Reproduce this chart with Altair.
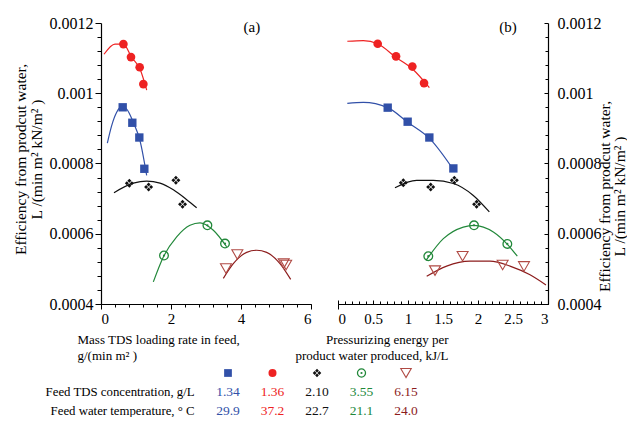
import altair as alt
import pandas as pd

FONT = "Liberation Serif"
SERIES = ["1.34", "1.36", "2.10", "3.55", "6.15"]
TEMPS = ["29.9", "37.2", "22.7", "21.1", "24.0"]
COLORS = ["#3150a8", "#ee2222", "#111111", "#22883a", "#8c1c1c"]
ROW_LABELS = ["Feed TDS concentration, g/L", "Feed water temperature, \u00b0 C"]

# ---------- panel (a): measured points ----------
a_pts = {
    "1.34": ([0.62, 0.895, 1.095, 1.238], [0.000960, 0.000916, 0.000874, 0.000785]),
    "1.36": ([0.64, 0.857, 1.105, 1.21], [0.001140, 0.001103, 0.001074, 0.001026]),
    "2.10": ([0.81, 1.36, 2.14, 2.33], [0.000744, 0.000733, 0.000752, 0.000684]),
    "3.55": ([1.80, 3.04, 3.543], [0.000538, 0.000624, 0.000572]),
    "6.15": ([3.57, 3.895, 5.22, 5.29], [0.000501, 0.000541, 0.000515, 0.000511]),
}
# panel (a): fitted curves
a_fit = {
    "1.34": ([0.181, 0.305, 0.448, 0.590, 0.733, 0.924, 1.114, 1.305],
             [0.000858, 0.000908, 0.000946, 0.000962, 0.000955, 0.000917, 0.000865, 0.000766]),
    "1.36": ([0.086, 0.40, 0.64, 0.876, 1.114, 1.306],
             [0.001111, 0.001140, 0.001140, 0.001102, 0.001069, 0.001009]),
    "2.10": ([0.371, 0.924, 1.305, 1.686, 2.067, 2.448, 2.733],
             [0.000717, 0.000744, 0.000750, 0.000744, 0.000725, 0.000697, 0.000674]),
    "3.55": ([1.495, 1.781, 2.162, 2.543, 2.829, 3.21, 3.59],
             [0.000463, 0.000534, 0.000591, 0.000624, 0.000631, 0.000610, 0.000563]),
    "6.15": ([3.495, 3.78, 4.162, 4.448, 4.733, 5.114, 5.42],
             [0.000473, 0.000515, 0.000547, 0.000553, 0.000547, 0.000515, 0.000470]),
}
# ---------- panel (b): measured points ----------
b_pts = {
    "1.34": ([0.71, 0.995, 1.305, 1.648], [0.000959, 0.000919, 0.000874, 0.000786]),
    "1.36": ([0.567, 0.829, 1.062, 1.229], [0.001141, 0.001105, 0.001076, 0.001029]),
    "2.10": ([0.933, 1.324, 1.662, 1.98], [0.000745, 0.000733, 0.000752, 0.000684]),
    "3.55": ([1.29, 1.943, 2.419], [0.000536, 0.000624, 0.000571]),
    "6.15": ([1.386, 1.78, 2.352, 2.657], [0.000495, 0.000536, 0.000511, 0.000507]),
}
b_fit = {
    "1.34": ([0.133, 0.362, 0.71, 1.0, 1.31, 1.671],
             [0.000971, 0.000974, 0.000959, 0.000917, 0.000871, 0.000776]),
    "1.36": ([0.133, 0.362, 0.567, 0.829, 1.076, 1.305],
             [0.001148, 0.001150, 0.001141, 0.001102, 0.001067, 0.001016]),
    "2.10": ([0.814, 1.124, 1.362, 1.648, 1.933, 2.162],
             [0.000731, 0.000752, 0.000752, 0.000743, 0.000709, 0.000662]),
    "3.55": ([1.257, 1.505, 1.79, 1.943, 2.219, 2.433, 2.562],
             [0.000524, 0.000586, 0.000619, 0.000624, 0.000605, 0.000567, 0.000536]),
    "6.15": ([1.267, 1.552, 1.886, 2.171, 2.457, 2.743, 2.971],
             [0.000479, 0.000508, 0.000522, 0.000522, 0.000508, 0.000483, 0.000454]),
}

Y_TICKS = [0.0004, 0.0006, 0.0008, 0.001, 0.0012]
Y_MINOR = [0.0004 + 0.00004 * i for i in range(21)]
XA_TICKS = [0, 2, 4, 6]
XA_MINOR = [0.4 * i for i in range(16)]
XB_TICKS = [0, 0.5, 1, 1.5, 2, 2.5, 3]
XB_MINOR = [0.1 * i for i in range(31)]

W, H = 447, 281
YSC = alt.Scale(domain=[0.0004, 0.0012], nice=False, zero=False)
XA_SC = alt.Scale(domain=[0, 6], range=[0, 210], nice=False, zero=False)
XB_SC = alt.Scale(domain=[0, 3], range=[237, 447], nice=False, zero=False)
COLOR = alt.Color("s:N", scale=alt.Scale(domain=SERIES, range=COLORS), legend=None)

DIAMONDS = ("M0,-0.9L0.4,-0.5L0,-0.1L-0.4,-0.5Z M0.9,0L0.5,0.4L0.1,0L0.5,-0.4Z "
            "M0,0.9L-0.4,0.5L0,0.1L0.4,0.5Z M-0.9,0L-0.5,-0.4L-0.1,0L-0.5,0.4Z")

ax_common = dict(labelFont=FONT, titleFont=FONT, titleFontWeight="normal",
                 labelColor="black", titleColor="black", domainColor="black",
                 tickColor="black", grid=False, domainWidth=1.2, tickWidth=1)
minor_common = dict(labels=False, domain=False, grid=False, title=None, tickColor="black", tickWidth=1)


def fit_df(fits):
    rows = []
    for s, (xs, ys) in fits.items():
        for i, (x, y) in enumerate(zip(xs, ys)):
            rows.append({"s": s, "x": x, "y": y, "i": i})
    return pd.DataFrame(rows)


def pts_df(pts, s):
    xs, ys = pts[s]
    return pd.DataFrame({"x": xs, "y": ys, "s": s})


def panel_layers(pts, fits, xsc, label, label_x):
    X = alt.X("x:Q", scale=xsc, axis=None)
    Y = alt.Y("y:Q", scale=YSC, axis=None)
    out = [
        alt.Chart(fit_df(fits)).mark_line(interpolate="monotone", strokeWidth=1.2).encode(
            x=X, y=Y, color=COLOR, detail="s:N", order="i:Q"),
        alt.Chart(pts_df(pts, "1.34")).mark_point(shape="square", filled=True, size=70,
                                                 color=COLORS[0], opacity=1).encode(x=X, y=Y),
        alt.Chart(pts_df(pts, "1.36")).mark_point(shape="circle", filled=True, size=75,
                                                 color=COLORS[1], opacity=1).encode(x=X, y=Y),
        alt.Chart(pts_df(pts, "2.10")).mark_point(shape=DIAMONDS, filled=True, size=100,
                                                 color="#111111", opacity=1).encode(x=X, y=Y),
        alt.Chart(pts_df(pts, "3.55")).mark_point(shape="circle", filled=False, size=75,
                                                 color=COLORS[3], strokeWidth=1.3, opacity=1).encode(x=X, y=Y),
        alt.Chart(pts_df(pts, "3.55")).mark_point(shape="circle", filled=True, size=5,
                                                 color=COLORS[3], opacity=1).encode(x=X, y=Y),
        alt.Chart(pts_df(pts, "6.15")).mark_point(shape="triangle-down", filled=False, size=120,
                                                 color="#b04a44", strokeWidth=1.1, opacity=1).encode(x=X, y=Y),
        alt.Chart(pd.DataFrame({"x": [label_x], "y": [0.00119], "t": [label]})).mark_text(
            font=FONT, fontSize=15, color="black", baseline="middle").encode(x=X, y=Y, text="t:N"),
    ]
    return out


YTITLE = ["Efficiency from prodcut water,", "L /(min  m\u00b2 kN/m\u00b2 )"]

# ---------------- axes layers (invisible points carrying the axes) ----------------
left_major = alt.Chart(pts_df(a_pts, "1.34")).mark_point(opacity=0).encode(
    x=alt.X("x:Q", scale=XA_SC, axis=alt.Axis(
        orient="bottom", values=XA_TICKS, format="d", tickSize=5, labelFontSize=15, labelPadding=2,
        title=["Mass TDS loading rate in feed,", "g/(min m\u00b2   )"], titleFontSize=13,
        titleAlign="left", titleAnchor="start", titleX=-24, titleY=29, titleBaseline="top",
        titleLineHeight=16, **ax_common)),
    y=alt.Y("y:Q", scale=YSC, axis=alt.Axis(
        orient="left", values=Y_TICKS, format=".2~g", tickSize=6, labelFontSize=16, labelPadding=2,
        title=YTITLE, titleFontSize=15.5, titleAngle=270, titleX=-88, titleY=136, titleAlign="center",
        titleBaseline="top", titleLineHeight=16, **ax_common)))

left_minor = alt.Chart(pts_df(a_pts, "1.36")).mark_point(opacity=0).encode(
    x=alt.X("x:Q", scale=XA_SC, axis=alt.Axis(orient="bottom", values=XA_MINOR, tickSize=3, **minor_common)),
    y=alt.Y("y:Q", scale=YSC, axis=alt.Axis(orient="left", values=Y_MINOR, tickSize=4, **minor_common)))

right_major = alt.Chart(pts_df(b_pts, "1.34")).mark_point(opacity=0).encode(
    x=alt.X("x:Q", scale=XB_SC, axis=alt.Axis(
        orient="bottom", values=XB_TICKS, format="~g", tickSize=5, labelFontSize=15, labelPadding=2,
        tickOpacity={"condition": {"test": "datum.value == 0", "value": 1}, "value": 0},
        title=["Pressurizing energy per", "product water produced, kJ/L"], titleFontSize=13,
        titleAlign="right", titleAnchor="end", titleX=347, titleY=29, titleBaseline="top",
        titleLineHeight=16, **ax_common)),
    y=alt.Y("y:Q", scale=YSC, axis=alt.Axis(
        orient="right", values=Y_TICKS, format=".2~g", ticks=False, labelFontSize=16, labelPadding=9,
        title=YTITLE, titleFontSize=15.5, titleAngle=270, titleX=49, titleY=173, titleAlign="center",
        titleBaseline="top", titleLineHeight=15, **ax_common)))

right_in = alt.Chart(pts_df(b_pts, "1.36")).mark_point(opacity=0).encode(
    x=alt.X("x:Q", scale=XB_SC, axis=alt.Axis(orient="top", offset=-H, values=XB_TICKS, tickSize=4, **minor_common)),
    y=alt.Y("y:Q", scale=YSC, axis=alt.Axis(orient="left", offset=-W, values=Y_TICKS, tickSize=4, **minor_common)))
right_minor = alt.Chart(pts_df(b_pts, "2.10")).mark_point(opacity=0).encode(
    x=alt.X("x:Q", scale=XB_SC, axis=alt.Axis(orient="top", offset=-H, values=XB_MINOR, tickSize=3, **minor_common)),
    y=alt.Y("y:Q", scale=YSC, axis=alt.Axis(orient="left", offset=-W, values=Y_MINOR, tickSize=3, **minor_common)))

# ---------------- table below ----------------
TX = alt.Scale(domain=[0, 4], range=[127, 305], nice=False, zero=False)
TY = alt.Scale(domain=[0, 2], range=[350, 388], nice=False, zero=False)
TXe = alt.X("col:Q", scale=TX, axis=None)
TYe = alt.Y("row:Q", scale=TY, axis=None)
one = lambda c: pd.DataFrame({"col": [c], "row": [0]})
table = [
    alt.Chart(one(0)).mark_point(shape="square", filled=True, size=60, color=COLORS[0], opacity=1).encode(x=TXe, y=TYe),
    alt.Chart(one(1)).mark_point(shape="circle", filled=True, size=65, color=COLORS[1], opacity=1).encode(x=TXe, y=TYe),
    alt.Chart(one(2)).mark_point(shape=DIAMONDS, filled=True, size=90, color="#111111", opacity=1).encode(x=TXe, y=TYe),
    alt.Chart(one(3)).mark_point(shape="circle", filled=False, size=65, color=COLORS[3], strokeWidth=1.3, opacity=1).encode(x=TXe, y=TYe),
    alt.Chart(one(3)).mark_point(shape="circle", filled=True, size=5, color=COLORS[3], opacity=1).encode(x=TXe, y=TYe),
    alt.Chart(one(4)).mark_point(shape="triangle-down", filled=False, size=110, color="#b04a44", strokeWidth=1.1, opacity=1).encode(x=TXe, y=TYe),
]
vals = pd.DataFrame({"col": list(range(5)) * 2, "row": [1] * 5 + [2] * 5,
                     "t": SERIES + TEMPS, "s": SERIES * 2})
table.append(alt.Chart(vals).mark_text(font=FONT, fontSize=13.5, baseline="middle").encode(
    x=TXe, y=TYe, text="t:N", color=COLOR))
labs = pd.DataFrame({"col": [-0.75, -0.75], "row": [1, 2], "t": ROW_LABELS})
table.append(alt.Chart(labs).mark_text(font=FONT, fontSize=12.8, baseline="middle", align="right",
                                       color="black").encode(x=TXe, y=TYe, text="t:N"))

layers = ([left_major, left_minor, right_major, right_in, right_minor]
          + panel_layers(a_pts, a_fit, XA_SC, "(a)", 4.31)
          + panel_layers(b_pts, b_fit, XB_SC, "(b)", 2.43)
          + table)

chart = alt.layer(*layers).resolve_scale(
    x="independent", y="independent", color="shared").resolve_axis(x="independent", y="independent").properties(
    width=W, height=H, autosize=alt.AutoSizeParams(type="none"),
    padding={"left": 93, "top": 15, "right": 79, "bottom": 113}, background="white"
).configure_view(stroke=None)

chart.save("out.html", embed_options={"renderer": "svg", "actions": False})
